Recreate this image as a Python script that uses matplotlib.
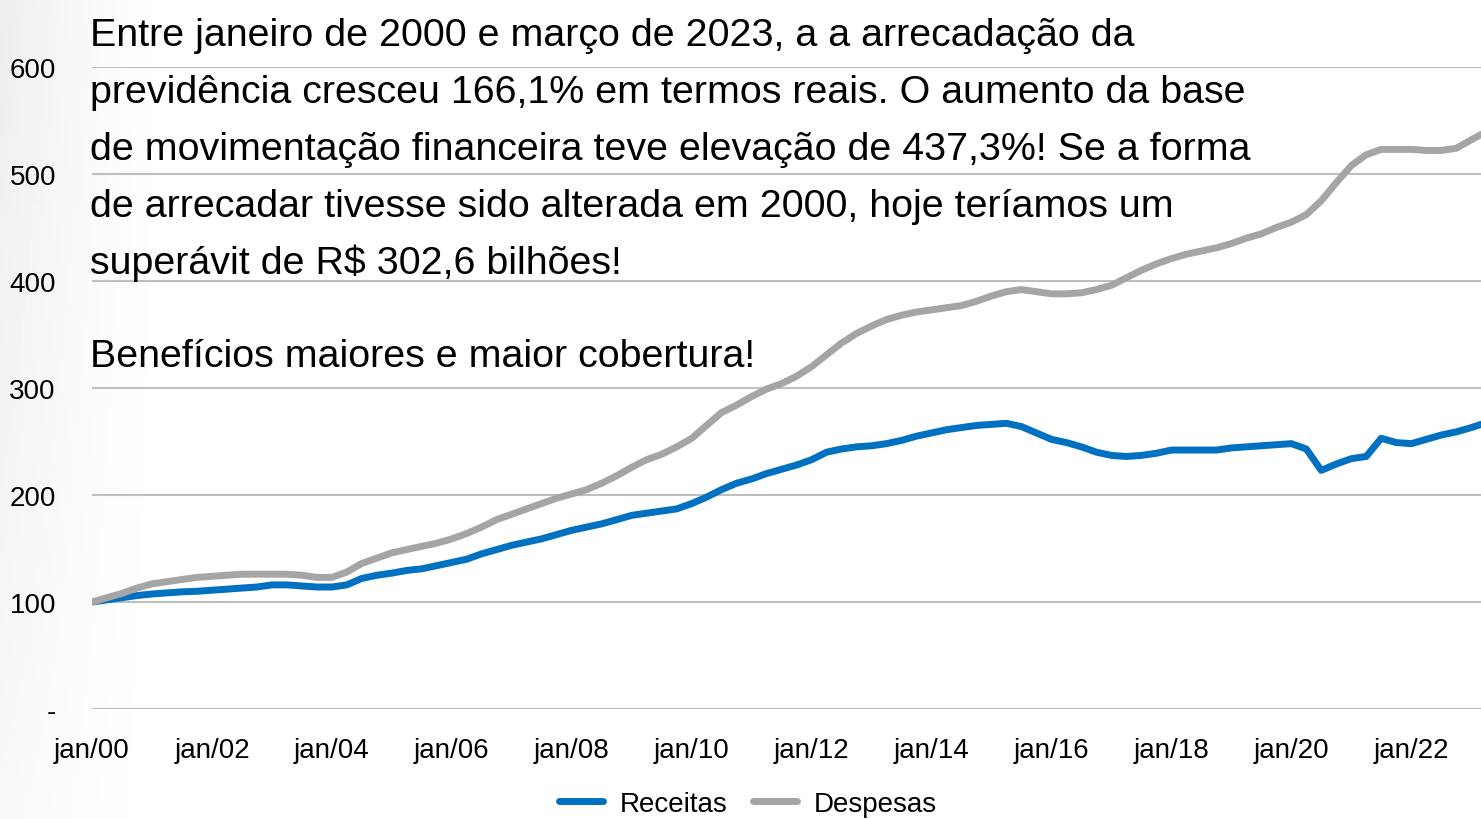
import matplotlib
matplotlib.use("Agg")
import matplotlib.pyplot as plt
import matplotlib.dates as mdates
from matplotlib import font_manager
import numpy as np
import pandas as pd

BLUE, GREY, GRID = "#0070C0", "#A5A5A5", "#BFBFBF"
installed = {f.name for f in font_manager.fontManager.ttflist}
narrow = [n for n in ("Liberation Sans Narrow", "DejaVu Sans Condensed") if n in installed]
plt.rcParams["font.family"] = narrow + ["Liberation Sans", "DejaVu Sans"]

# quarterly readings, jan/2000 .. jan/2023, plus mar/2023 (index, jan/00 = 100)
dates = list(pd.date_range("2000-01-01", "2023-01-01", freq="QS")) + [pd.Timestamp("2023-03-01")]
receitas = [100, 102, 104, 106,  107.5, 108.5, 109.5, 110,  111, 112, 113, 114,
            116, 116, 115, 114,  114, 116, 122, 125,  127, 129.5, 131, 134,
            137, 140, 145, 149,  153, 156, 159, 163,  167, 170, 173, 177,
            181, 183, 185, 187,  192, 198, 205, 211,  215, 220, 224, 228,
            233, 240, 243, 245,  246, 248, 251, 255,  258, 261, 263, 265,
            266, 267, 264, 258,  252, 249, 245, 240,  237, 236, 237, 239,
            242, 242, 242, 242,  244, 245, 246, 247,  248, 243, 223, 229,
            234, 236, 253, 249,  248, 252, 256, 259,  263, 266]
despesas = [100, 104, 108, 113,  117, 119, 121, 123,  124, 125, 126, 126,
            126, 126, 125, 123,  123, 128, 136, 141,  146, 149, 152, 155,
            159, 164, 170, 177,  182, 187, 192, 197,  201, 205, 211, 218,
            226, 233, 238, 245,  253, 265, 277, 284,  292, 299, 304, 311,
            320, 331, 342, 351,  358, 364, 368, 371,  373, 375, 377, 381,
            386, 390, 392, 390,  388, 388, 389, 392,  396, 403, 410, 416,
            421, 425, 428, 431,  435, 440, 444, 450,  455, 462, 475, 492,
            508, 518, 523, 523,  523, 522, 522, 524,  532, 537]
yticks = [0, 100, 200, 300, 400, 500, 600]
ylabels = ["-", "100", "200", "300", "400", "500", "600"]
xtick_years = list(range(2000, 2023, 2))

linhas = ["Entre janeiro de 2000 e março de 2023, a a arrecadação da",
          "previdência cresceu 166,1% em termos reais. O aumento da base",
          "de movimentação financeira teve elevação de 437,3%! Se a forma",
          "de arrecadar tivesse sido alterada em 2000, hoje teríamos um",
          "superávit de R$ 302,6 bilhões!"]
destaque = "Benefícios maiores e maior cobertura!"

W, H = 1481, 820
fig = plt.figure(figsize=(W / 100, H / 100), dpi=100)

# faint grey shading at the left edge of the slide
bg = fig.add_axes([0, 0, 1, 1], zorder=-10)
gx = np.linspace(0, 1, 400)
gy = np.linspace(0, 1, 200)[:, None]
shade = np.clip(1 - gx / 0.12, 0, 1) ** 1.5 * (0.35 + 0.65 * (1 - gy))
bg.imshow(1 - 0.07 * shade, cmap="gray", vmin=0, vmax=1, aspect="auto",
          extent=[0, 1, 0, 1], origin="upper")
bg.axis("off")

ax = fig.add_axes([92 / W, 1 - 710 / H, 1 - 92 / W, (710 - 68) / H])
ax.patch.set_alpha(0)
ax.plot(dates, receitas, color=BLUE, lw=5, label="Receitas", solid_capstyle="round")
ax.plot(dates, despesas, color=GREY, lw=5, label="Despesas", solid_capstyle="round")

ax.set_ylim(0, 600)
ax.set_xlim(pd.Timestamp("2000-01-01"), pd.Timestamp("2023-03-01"))
ax.set_yticks(yticks)
ax.set_yticklabels(ylabels)
ax.set_xticks([pd.Timestamp(f"{y}-01-01") for y in xtick_years])
ax.xaxis.set_major_formatter(mdates.DateFormatter("jan/%y"))
ax.tick_params(length=0, labelsize=20, colors="black")
ax.tick_params(axis="y", pad=26)
ax.tick_params(axis="x", pad=20)
ax.grid(axis="y", color=GRID, lw=1.5)
ax.set_axisbelow(True)
for s in ax.spines.values():
    s.set_visible(False)

ax.legend(loc="center", bbox_to_anchor=(748 / W, 1 - 805 / H), bbox_transform=fig.transFigure,
          ncol=2, frameon=False, fontsize=20, handlelength=1.6, columnspacing=0.9,
          handletextpad=0.6, borderpad=0)

# size the paragraph so its widest line spans the same width as in the slide
r = fig.canvas.get_renderer()
probe = fig.text(0, 0, linhas[1], fontsize=34)
size = 34 * 1155 / probe.get_window_extent(r).width
probe.remove()

for i, linha in enumerate(linhas):
    fig.text(90 / W, 1 - (46 + 57 * i) / H, linha, fontsize=size, va="baseline", ha="left")
fig.text(90 / W, 1 - 367 / H, destaque, fontsize=size, va="baseline", ha="left")

fig.savefig("out.png", dpi=100)
